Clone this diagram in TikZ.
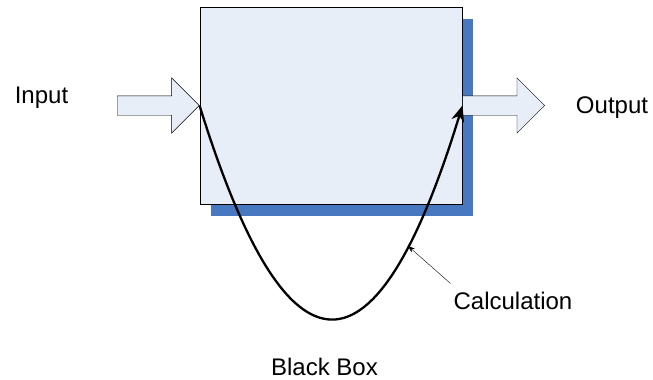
\documentclass[tikz,border=0pt]{standalone}
\usepackage{fontspec}
\setmainfont{Liberation Sans}
\usetikzlibrary{positioning, arrows.meta, shapes.arrows, shadows, calc}
\definecolor{boxfill}{RGB}{232, 238, 248}
\definecolor{boxshadow}{RGB}{72, 120, 192}

\begin{document}
\begin{tikzpicture}[x=1pt, y=-1pt, font=\fontsize{24}{28}\selectfont,
    blockarrow/.style={draw, thin, fill=boxfill, single arrow, single arrow head extend=18pt,
      inner xsep=0pt, inner ysep=9.5pt, minimum height=82pt},
    label/.style={anchor=base, inner sep=1pt}]
    \useasboundingbox (0,0) rectangle (653,380);
    % Black box with shadow
    \node[draw, line width=0.9pt, fill=boxfill, minimum width=262pt, minimum height=197pt, inner sep=0pt,
      drop shadow={shadow xshift=11pt, shadow yshift=-12pt, fill=boxshadow, opacity=1}] (box) at (331,105.5) {};
    % Input / output arrows
    \node[blockarrow, anchor=tip] (inarrow) at (box.west) {};
    \node[blockarrow, anchor=tail] (outarrow) at (box.east) {};
    % Labels
    \node[label] (input) at (41.5,103.3) {Input};
    \node[label] (output) at (612,113.3) {Output};
    \node[label] (blackbox) at (324.5,375.7) {Black Box};
    \node[label] (calc) at (513,309) {Calculation};
    % Calculation curve
    \draw[line width=2.3pt, -{Stealth[length=16pt, width=13pt]}] (box.west)
      .. controls +(88.7,286.7) and +(-86,281) .. coordinate[pos=0.79] (onpath) (box.east);
    \draw[thin, -{Stealth[length=7pt, width=5pt]}] ($(calc.north west)+(-2,-7)$) -- (onpath);
\end{tikzpicture}
\end{document}
